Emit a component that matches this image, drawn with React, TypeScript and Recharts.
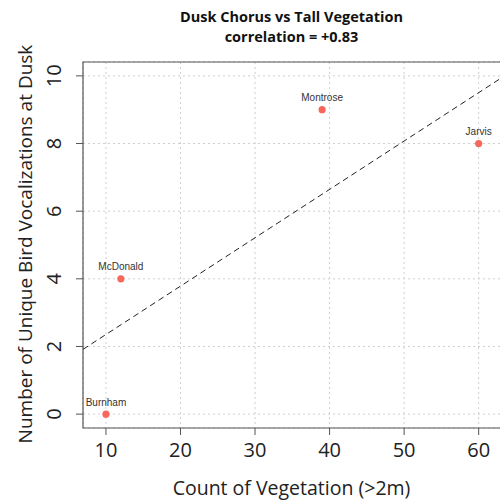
import {
  ScatterChart,
  Scatter,
  XAxis,
  YAxis,
  CartesianGrid,
  ReferenceLine,
  ReferenceArea,
  LabelList,
} from 'recharts';

// sites and their counts
const sites = ['Burnham', 'McDonald', 'Montrose', 'Jarvis'];
const vegetation = [10, 12, 39, 60];
const vocalizations = [0, 4, 9, 8];

const xTicks = [10, 20, 30, 40, 50, 60];
const yTicks = [0, 2, 4, 6, 8, 10];

const xDomain = [6.92, 63.13];
const yDomain = [-0.41, 10.41];

const points = sites.map((name, i) => ({
  name,
  x: vegetation[i],
  y: vocalizations[i],
}));

// least squares fit through the points
const n = vegetation.length;
const mx = vegetation.reduce((a, b) => a + b, 0) / n;
const my = vocalizations.reduce((a, b) => a + b, 0) / n;
let sxy = 0;
let sxx = 0;
vegetation.forEach((v, i) => {
  sxy += (v - mx) * (vocalizations[i] - my);
  sxx += (v - mx) * (v - mx);
});
const slope = sxy / sxx;
const intercept = my - slope * mx;
const fitLine = [
  { x: xDomain[0], y: intercept + slope * xDomain[0] },
  { x: xDomain[1], y: intercept + slope * xDomain[1] },
];

const font = '"Open Sans", sans-serif';

const YTick = (props: any) => {
  const { x, y, payload } = props;
  const bx = x - 12.5;
  return (
    <text
      x={bx}
      y={y}
      transform={`rotate(-90, ${bx}, ${y})`}
      textAnchor="middle"
      fontFamily={font}
      fontSize={20}
      fill="#222"
    >
      {payload.value}
    </text>
  );
};

export default function App() {
  return (
    <div
      style={{
        position: 'absolute',
        left: 0,
        top: 0,
        width: 500,
        height: 501,
        overflow: 'hidden',
        background: '#fff',
      }}
    >
      <div
        style={{
          position: 'absolute',
          left: 83,
          width: 417,
          top: 7,
          textAlign: 'center',
          fontFamily: font,
          fontWeight: 700,
          fontSize: 14.5,
          lineHeight: '20px',
          color: '#111',
        }}
      >
        Dusk Chorus vs Tall Vegetation
        <br />
        correlation = +0.83
      </div>
      <ScatterChart
        width={502}
        height={501}
        margin={{ top: 62, right: 0, bottom: 0, left: 0 }}
      >
        <CartesianGrid stroke="#cfcfcf" strokeDasharray="2 3" />
        <XAxis
          type="number"
          dataKey="x"
          domain={xDomain}
          ticks={xTicks}
          allowDataOverflow
          height={73}
          axisLine={false}
          tickLine={{ stroke: '#555' }}
          tickSize={7}
          tickMargin={8}
          tick={{ fontFamily: font, fontSize: 20, fill: '#222' }}
        />
        <YAxis
          type="number"
          dataKey="y"
          domain={yDomain}
          ticks={yTicks}
          allowDataOverflow
          width={83}
          axisLine={false}
          tickLine={{ stroke: '#555' }}
          tickSize={7}
          tick={<YTick />}
        />
        <ReferenceArea
          x1={xDomain[0]}
          x2={xDomain[1]}
          y1={yDomain[0]}
          y2={yDomain[1]}
          fill="none"
          stroke="#555"
          strokeWidth={1.2}
          fillOpacity={0}
        />
        <ReferenceLine
          segment={fitLine}
          stroke="#222"
          strokeDasharray="6 4"
          strokeWidth={1}
        />
        <Scatter
          data={points}
          fill="#f8675b"
          isAnimationActive={false}
          shape={(p: any) => <circle cx={p.cx} cy={p.cy} r={3.6} fill="#f8675b" />}
        >
          <LabelList
            dataKey="name"
            position="top"
            offset={4}
            style={{ fontFamily: '"Liberation Sans", Arial, sans-serif', fontSize: 10, fill: '#333' }}
          />
        </Scatter>
      </ScatterChart>
      <div
        style={{
          position: 'absolute',
          left: 83,
          width: 417,
          top: 476,
          textAlign: 'center',
          fontFamily: font,
          fontSize: 19.5,
          lineHeight: '24px',
          color: '#222',
        }}
      >
        Count of Vegetation (&gt;2m)
      </div>
      <div
        style={{
          position: 'absolute',
          left: 25 - 220,
          top: 244 - 12,
          width: 440,
          height: 24,
          transform: 'rotate(-90deg)',
          textAlign: 'center',
          fontFamily: font,
          fontSize: 19,
          lineHeight: '24px',
          color: '#222',
          whiteSpace: 'nowrap',
        }}
      >
        Number of Unique Bird Vocalizations at Dusk
      </div>
    </div>
  );
}
